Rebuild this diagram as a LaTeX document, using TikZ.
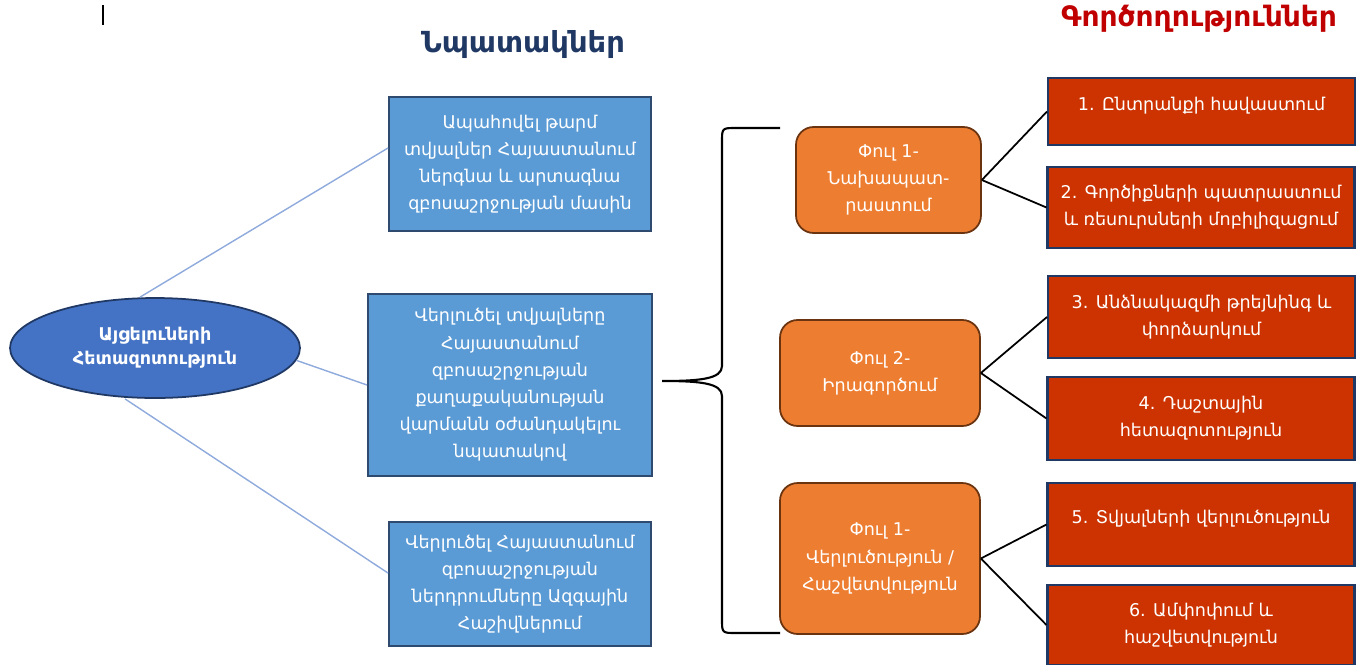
\documentclass[tikz,border=0pt]{standalone}
\usepackage{fontspec}
\setmainfont{DejaVu Sans}
\usetikzlibrary{positioning,shapes.geometric,calc}
\definecolor{navy}{HTML}{203864}
\definecolor{gedge}{HTML}{2E4A6E}
\definecolor{blu}{HTML}{5B9BD5}
\definecolor{eblu}{HTML}{4472C4}
\definecolor{lblu}{HTML}{8FAADC}
\definecolor{org}{HTML}{ED7D31}
\definecolor{brn}{HTML}{6B3410}
\definecolor{rd}{HTML}{CC3300}
\definecolor{dred}{HTML}{C00000}
\tikzset{
  txt/.style={align=center,text=white,font=\fontsize{10}{15.5}\selectfont,inner sep=2pt},
  goal/.style={txt,draw=gedge,fill=blu,line width=1.2pt,minimum width=5.24cm},
  hub/.style={txt,ellipse,draw=navy,fill=eblu,line width=1pt,font=\bfseries\fontsize{10}{13.5}\selectfont,minimum width=5.8cm,minimum height=2cm},
  phase/.style={txt,draw=brn,fill=org,line width=1pt,rounded corners=10pt},
  act/.style={txt,draw=navy,fill=rd,line width=1.2pt,minimum width=6.14cm},
  lnk/.style={draw=lblu,line width=0.8pt},
  ln/.style={draw=black,line width=1pt},
  ttl/.style={font=\bfseries\fontsize{16}{18}\selectfont},
}
\begin{document}
\begin{tikzpicture}[x=0.02cm,y=-0.02cm]
\useasboundingbox (0,0) rectangle (1357,664);
\clip (0,0) rectangle (1357,664);

% titles
\node[ttl,text=navy,font=\bfseries\fontsize{16.5}{18}\selectfont] (tgoal) at (523,44) {Նպատակներ};
\node[ttl,text=dred] (tact) at (1199,19) {Գործողություններ};
\draw[line width=0.6pt] (103,5) -- (103,25);

% left side
\node[hub] (visit) at (155,348) {Այցելուների\\Հետազոտություն};
\node[goal,minimum height=2.68cm] (goalA) at (520,164) {Ապահովել թարմ\\տվյալներ Հայաստանում\\ներգնա և արտագնա\\զբոսաշրջության մասին};
\node[goal,minimum width=5.68cm,minimum height=3.64cm] (goalB) at (510,385) {Վերլուծել տվյալները\\Հայաստանում\\զբոսաշրջության\\քաղաքականության\\վարմանն օժանդակելու\\նպատակով};
\node[goal,minimum height=2.48cm] (goalC) at (520,584) {Վերլուծել Հայաստանում\\զբոսաշրջության\\ներդրումները Ազգային\\Հաշիվներում};
\draw[lnk] ([xshift=-0.3cm]visit.north) -- ([yshift=0.32cm]goalA.west);
\draw[lnk] (visit.-5) -- (goalB.west);
\draw[lnk] ([xshift=-0.6cm]visit.south) -- ([yshift=0.22cm]goalC.west);

% brace
\coordinate (btip) at (662,381);
\coordinate (btop) at (780,128);
\coordinate (bbot) at (780,633);
\draw[line width=1.2pt] (btop) -- (736,128) .. controls (722,128) .. (722,142) -- (722,366)
  .. controls (722,379) and (700,381) .. (btip)
  .. controls (700,381) and (722,383) .. (722,396) -- (722,619)
  .. controls (722,633) .. (736,633) -- (bbot);

% phases
\node[phase,minimum width=3.7cm,minimum height=2.12cm] (phA) at (888.5,180) {Փուլ 1-\\Նախապատ-\\րաստում};
\node[phase,minimum width=4cm,minimum height=2.12cm] (phB) at (880,373) {Փուլ 2-\\Իրագործում};
\node[phase,minimum width=4cm,minimum height=3.02cm] (phC) at (880,558.5) {Փուլ 1-\\Վերլուծություն /\\Հաշվետվություն};

% activities
\node[act,minimum height=1.34cm,text depth=0.32cm] (actA) at (1201.5,111.5) {1. Ընտրանքի հավաստում};
\node[act,minimum height=1.62cm] (actB) at (1201,207.5) {2. Գործիքների պատրաստում\\և ռեսուրսների մոբիլիզացում};
\node[act,minimum height=1.64cm] (actC) at (1201.5,317) {3. Անձնակազմի թրեյնինգ և\\փորձարկում};
\node[act,minimum height=1.66cm] (actD) at (1201,418.5) {4. Դաշտային\\հետազոտություն};
\node[act,minimum height=1.66cm,text depth=0.32cm] (actE) at (1201,524.5) {5. Տվյալների վերլուծություն};
\node[act,minimum height=1.6cm] (actF) at (1201,625) {6. Ամփոփում և\\հաշվետվություն};

\draw[ln] (phA.east) -- (actA.west);
\draw[ln] (phA.east) -- (actB.west);
\draw[ln] (phB.east) -- (actC.west);
\draw[ln] (phB.east) -- (actD.west);
\draw[ln] (phC.east) -- (actE.west);
\draw[ln] (phC.east) -- (actF.west);
\end{tikzpicture}
\end{document}
